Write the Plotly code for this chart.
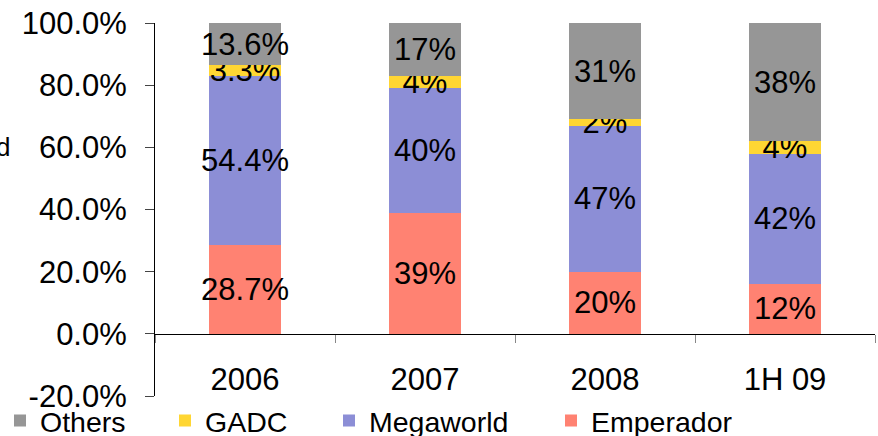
import plotly.graph_objects as go

categories = ["2006", "2007", "2008", "1H 09"]
emperador = [28.7, 39, 20, 16]
megaworld = [54.4, 40, 47, 42]
gadc = [3.3, 4, 2, 4]
others = [13.6, 17, 31, 38]

emperador_labels = ["28.7%", "39%", "20%", "12%"]
megaworld_labels = ["54.4%", "40%", "47%", "42%"]
gadc_labels = ["3.3%", "4%", "2%", "4%"]
others_labels = ["13.6%", "17%", "31%", "38%"]

y_tick_vals = [-20, 0, 20, 40, 60, 80, 100]
y_tick_text = ["-20.0%", "0.0%", "20.0%", "40.0%", "60.0%", "80.0%", "100.0%"]

FONT = "Liberation Sans, Arial, sans-serif"

# (name, values, labels, colour, legend id, legend x in px)
series = [
    ("Emperador", emperador, emperador_labels, "#ff8272", "legend4", 551),
    ("Megaworld", megaworld, megaworld_labels, "#8c8ed6", "legend3", 329),
    ("GADC", gadc, gadc_labels, "#ffd633", "legend2", 165),
    ("Others", others, others_labels, "#969696", "legend", -3),
]

W, H = 878, 436
fig = go.Figure()
legends = {}
for name, vals, labels, color, leg, lx in series:
    fig.add_trace(go.Bar(
        name=name, x=categories, y=vals, text=labels,
        texttemplate="%{text}", textposition="inside",
        insidetextanchor="middle", textangle=0,
        textfont=dict(size=31, color="black", family=FONT),
        marker=dict(color=color, line=dict(width=0)),
        cliponaxis=False, legend=leg,
    ))
    legends[leg] = dict(
        orientation="h", xref="container", yref="container",
        x=lx / W, y=1 - 421 / H, xanchor="left", yanchor="middle",
        font=dict(size=28.5, family=FONT, color="black"),
        bgcolor="rgba(0,0,0,0)", itemwidth=30,
    )

fig.update_layout(
    barmode="stack",
    bargap=0.6,
    width=W, height=H,
    margin=dict(l=155, r=3, t=23, b=40, autoexpand=False),
    paper_bgcolor="white", plot_bgcolor="white",
    font=dict(family=FONT, size=28, color="black"),
    uniformtext=dict(minsize=31, mode="show"),
    showlegend=True,
    xaxis=dict(
        anchor="free", position=1/6, automargin=False,
        showline=True, linecolor="black", linewidth=1,
        ticks="outside", tickson="boundaries", ticklen=8,
        tickcolor="#888888", tickwidth=1,
        tickfont=dict(size=31, family=FONT),
        ticklabelstandoff=18,
        showgrid=False, zeroline=False,
    ),
    yaxis=dict(
        range=[-20, 100], tickvals=y_tick_vals, ticktext=y_tick_text,
        automargin=False,
        showline=True, linecolor="black", linewidth=1,
        ticks="outside", ticklen=9, tickcolor="#444444",
        tickfont=dict(size=31, family=FONT),
        ticklabelstandoff=12,
        showgrid=False, zeroline=False,
    ),
    annotations=[dict(
        text="d", xref="paper", yref="y", x=-0.1986, y=60,
        xanchor="right", yanchor="middle", showarrow=False,
        font=dict(size=26, family=FONT, color="black"),
    )],
    **legends,
)

fig.write_html("out.html")
